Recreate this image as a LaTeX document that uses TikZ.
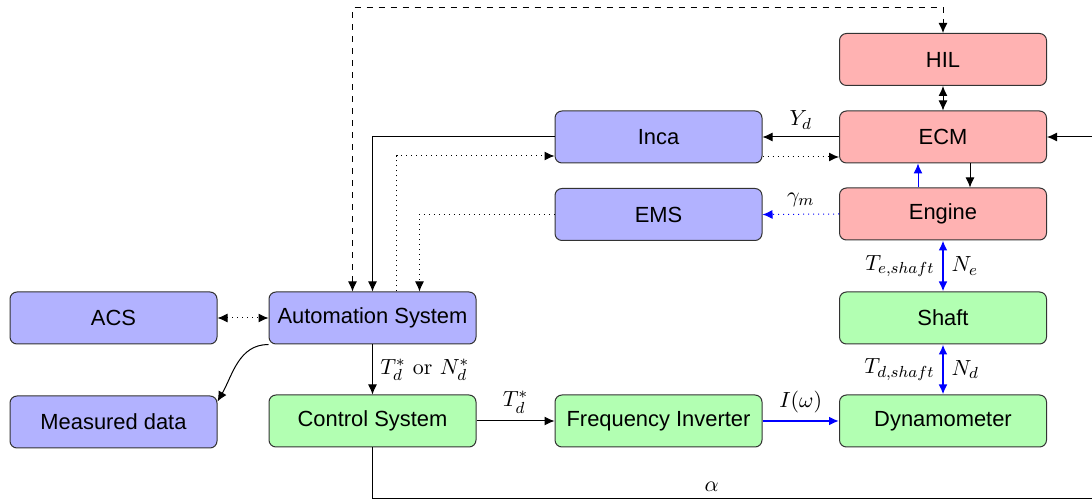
\documentclass[tikz,border=0pt,11pt]{standalone}
\usepackage{fontspec}
\setsansfont{Liberation Sans}
\usetikzlibrary{arrows.meta}

\tikzset{every picture/.style={line width=0.5pt}}
\tikzset{
  >={Latex[length=5pt,width=4.5pt]},
  blk/.style={draw=black!80, rounded corners=3.5pt, minimum width=103.5pt, minimum height=26pt, inner sep=0pt, font=\sffamily},
  bluebox/.style={blk, fill={rgb,255:red,178;green,178;blue,255}},
  redbox/.style={blk, fill={rgb,255:red,255;green,178;blue,178}},
  greenbox/.style={blk, fill={rgb,255:red,178;green,255;blue,178}},
  powerline/.style={draw=blue, line width=1.2pt},
}

\begin{document}
\begin{tikzpicture}[x=0.5pt,y=0.5pt,yscale=-1,xscale=1]
\useasboundingbox (0,0) rectangle (1092,501);

%Rounded Rect
\node[redbox] (hil) at (943,59.5) {HIL};
\node[redbox] (ecm) at (943,137) {ECM};
\node[redbox] (engine) at (943,214) {Engine};
%Rounded Rect
\node[bluebox] (inca) at (658.5,137) {Inca};
\node[bluebox] (ems) at (658.5,214.5) {EMS};
\node[bluebox] (acs) at (113.5,318) {ACS};
\node[bluebox] (autosys) at (372.5,318) {Automation System};
\node[bluebox] (meas) at (113.5,422) {Measured data};
%Rounded Rect
\node[greenbox] (shaft) at (943,318) {Shaft};
\node[greenbox] (ctrl) at (372.5,421) {Control System};
\node[greenbox] (freq) at (658.5,421) {Frequency Inverter};
\node[greenbox] (dyno) at (943,421) {Dynamometer};

%Straight Lines
\draw[<->] (hil) -- (ecm);
\draw[->] (ecm.west) -- node[above]{$Y_d$} (inca.east);
\draw[dotted,->] ([yshift=10pt]inca.east) -- ([yshift=10pt]ecm.west);
\draw[draw=blue,->] ([xshift=-12.5pt]engine.north) -- ([xshift=-12.5pt]ecm.south);
\draw[->] ([xshift=13.5pt]ecm.south) -- ([xshift=13.5pt]engine.north);
\draw[draw=blue,dotted,->] (engine.west) -- node[above]{$\gamma_m$} (ems.east);

%Straight Lines
\draw[->] (inca.west) -| (autosys.north);
\draw[dotted,->] ([xshift=12pt]autosys.north) |- ([yshift=9.5pt]inca.west);
\draw[dotted,->] (ems.west) -| ([xshift=23.5pt]autosys.north);
\draw[dashed,<->] ([xshift=-10pt]autosys.north) |- ([yshift=-12.5pt]hil.north) -- (hil.north);

%Straight Lines
\draw[powerline,<->] (engine) -- node[left]{$T_{e,shaft}$} node[right]{$N_e$} (shaft);
\draw[powerline,<->] (shaft) -- node[left]{$T_{d,shaft}$} node[right]{$N_d$} (dyno);
\draw[powerline,->] (freq) -- node[above]{$I(\omega)$} (dyno);

%Straight Lines
\draw[dotted,<->] (acs) -- (autosys);
\draw[->] (autosys.south west) to[out=180,in=-60] ([yshift=3pt]meas.north east);
\draw[->] (autosys) -- node[right]{$T_d^*$ or $N_d^*$} (ctrl);
\draw[->] (ctrl) -- node[above]{$T_d^*$} (freq);
\draw[->] (ctrl.south) |- node[pos=0.73,above]{$\alpha$} (1110,499) |- (ecm.east);

\end{tikzpicture}
\end{document}
